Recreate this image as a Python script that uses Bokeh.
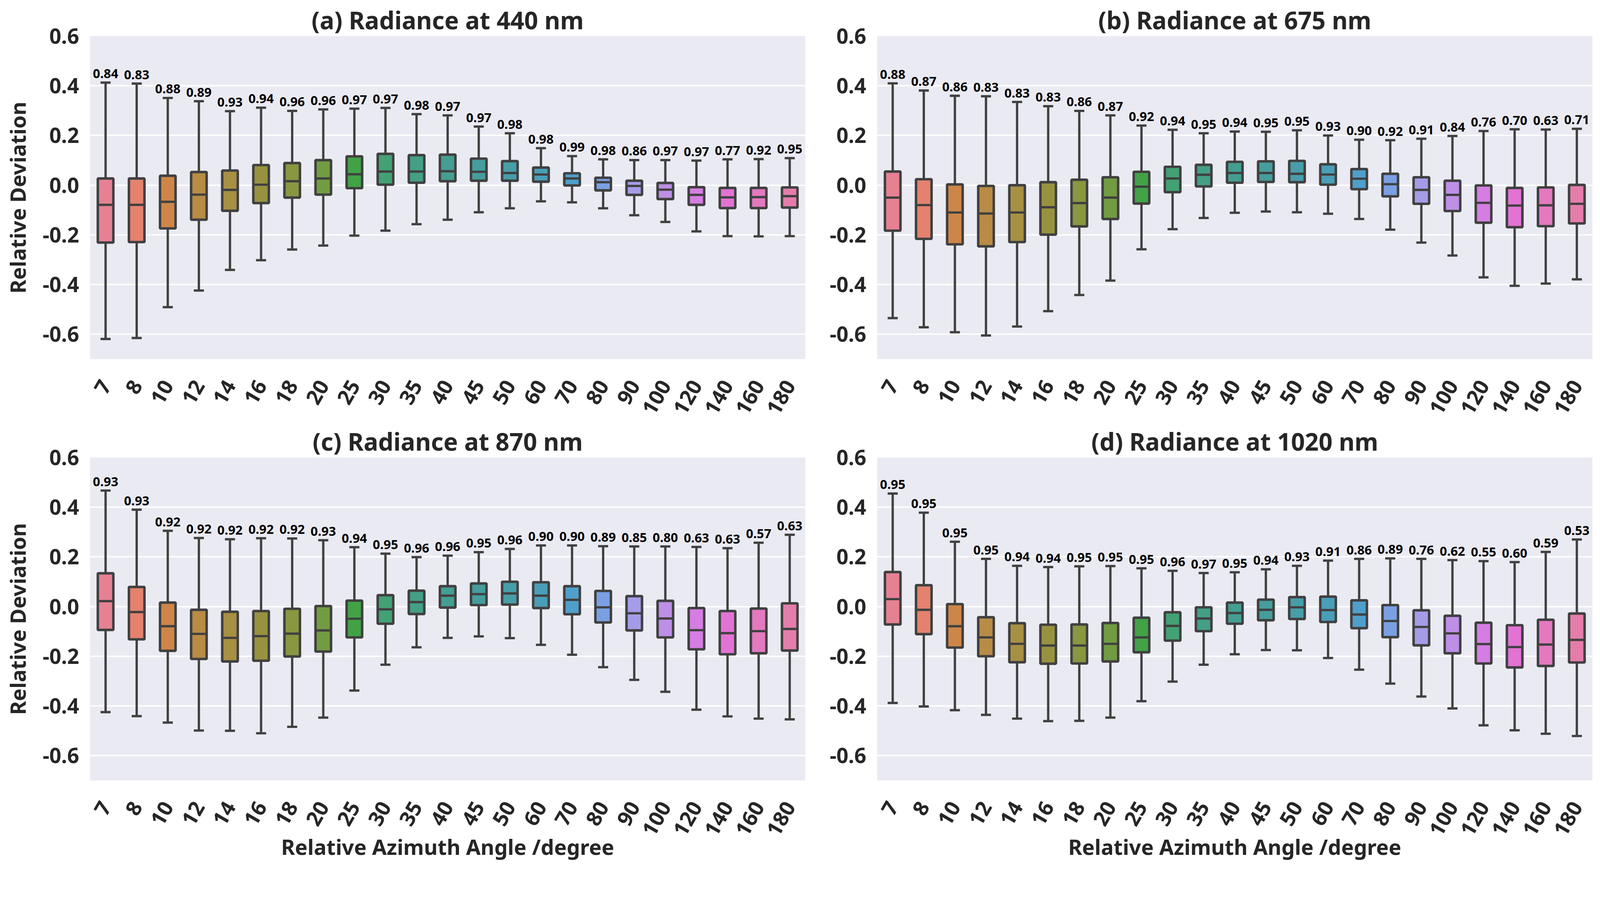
import math
import colorsys
import numpy as np
from bokeh.plotting import figure
from bokeh.models import ColumnDataSource, FactorRange, Range1d, FixedTicker, NumeralTickFormatter
from bokeh.transform import dodge
from bokeh.layouts import column, row
from bokeh.core.properties import value
from bokeh.embed import file_html
from bokeh.resources import INLINE

# ---------------- data ----------------
angles = ["7", "8", "10", "12", "14", "16", "18", "20", "25", "30", "35", "40",
          "45", "50", "60", "70", "80", "90", "100", "120", "140", "160", "180"]

titles = ["(a) Radiance at 440 nm", "(b) Radiance at 675 nm",
          "(c) Radiance at 870 nm", "(d) Radiance at 1020 nm"]

a_hi = [0.413, 0.409, 0.351, 0.338, 0.298, 0.312, 0.299, 0.305, 0.308, 0.311, 0.286, 0.281,
        0.236, 0.209, 0.149, 0.117, 0.104, 0.101, 0.101, 0.099, 0.104, 0.105, 0.109]
a_q3 = [0.027, 0.027, 0.038, 0.053, 0.059, 0.081, 0.089, 0.101, 0.116, 0.126, 0.121, 0.123,
        0.107, 0.097, 0.071, 0.048, 0.030, 0.018, 0.009, -0.008, -0.011, -0.011, -0.009]
a_med = [-0.079, -0.079, -0.067, -0.038, -0.019, 0.002, 0.016, 0.027, 0.044, 0.055, 0.055, 0.056,
         0.054, 0.049, 0.043, 0.027, 0.012, -0.003, -0.018, -0.039, -0.049, -0.048, -0.044]
a_q1 = [-0.231, -0.229, -0.174, -0.139, -0.103, -0.072, -0.050, -0.038, -0.012, 0.002, 0.010, 0.016,
        0.018, 0.018, 0.014, -0.001, -0.021, -0.039, -0.056, -0.079, -0.092, -0.092, -0.090]
a_lo = [-0.619, -0.615, -0.491, -0.424, -0.341, -0.302, -0.259, -0.243, -0.203, -0.183, -0.157, -0.139,
        -0.109, -0.093, -0.065, -0.069, -0.093, -0.121, -0.148, -0.186, -0.205, -0.206, -0.205]
a_r = ["0.84", "0.83", "0.88", "0.89", "0.93", "0.94", "0.96", "0.96", "0.97", "0.97", "0.98", "0.97",
       "0.97", "0.98", "0.98", "0.99", "0.98", "0.86", "0.97", "0.97", "0.77", "0.92", "0.95"]

b_hi = [0.410, 0.381, 0.360, 0.358, 0.335, 0.318, 0.299, 0.281, 0.240, 0.223, 0.209, 0.216,
        0.215, 0.221, 0.200, 0.183, 0.181, 0.187, 0.198, 0.218, 0.225, 0.224, 0.227]
b_q3 = [0.055, 0.024, 0.003, -0.003, 0.000, 0.012, 0.022, 0.032, 0.054, 0.074, 0.082, 0.094,
        0.096, 0.098, 0.084, 0.065, 0.046, 0.032, 0.018, -0.001, -0.011, -0.009, 0.001]
b_med = [-0.050, -0.080, -0.110, -0.114, -0.110, -0.089, -0.072, -0.050, -0.006, 0.027, 0.042, 0.049,
         0.049, 0.046, 0.043, 0.026, 0.004, -0.019, -0.039, -0.071, -0.082, -0.081, -0.075]
b_q1 = [-0.183, -0.216, -0.238, -0.246, -0.229, -0.199, -0.166, -0.136, -0.074, -0.028, -0.005, 0.010,
        0.013, 0.012, 0.002, -0.016, -0.045, -0.075, -0.104, -0.151, -0.169, -0.165, -0.154]
b_lo = [-0.535, -0.572, -0.592, -0.605, -0.569, -0.507, -0.442, -0.384, -0.258, -0.177, -0.132, -0.111,
        -0.106, -0.109, -0.115, -0.136, -0.179, -0.231, -0.283, -0.371, -0.405, -0.396, -0.379]
b_r = ["0.88", "0.87", "0.86", "0.83", "0.83", "0.83", "0.86", "0.87", "0.92", "0.94", "0.95", "0.94",
       "0.95", "0.95", "0.93", "0.90", "0.92", "0.91", "0.84", "0.76", "0.70", "0.63", "0.71"]

c_hi = [0.467, 0.390, 0.305, 0.276, 0.271, 0.275, 0.274, 0.267, 0.239, 0.213, 0.199, 0.205,
        0.219, 0.232, 0.246, 0.246, 0.243, 0.242, 0.242, 0.240, 0.235, 0.257, 0.289]
c_q3 = [0.134, 0.079, 0.016, -0.013, -0.021, -0.018, -0.009, 0.002, 0.024, 0.046, 0.064, 0.082,
        0.093, 0.100, 0.098, 0.082, 0.063, 0.042, 0.023, -0.006, -0.018, -0.008, 0.013]
c_med = [0.022, -0.022, -0.079, -0.110, -0.126, -0.119, -0.109, -0.096, -0.049, -0.011, 0.018, 0.044,
         0.050, 0.053, 0.044, 0.027, -0.003, -0.027, -0.048, -0.095, -0.107, -0.099, -0.090]
c_q1 = [-0.094, -0.132, -0.178, -0.211, -0.221, -0.218, -0.201, -0.181, -0.124, -0.069, -0.030, -0.004,
        0.006, 0.008, -0.006, -0.031, -0.064, -0.096, -0.124, -0.172, -0.192, -0.188, -0.177]
c_lo = [-0.425, -0.441, -0.467, -0.499, -0.500, -0.510, -0.484, -0.447, -0.338, -0.234, -0.164, -0.126,
        -0.120, -0.127, -0.154, -0.194, -0.244, -0.295, -0.343, -0.415, -0.442, -0.451, -0.454]
c_r = ["0.93", "0.93", "0.92", "0.92", "0.92", "0.92", "0.92", "0.93", "0.94", "0.95", "0.96", "0.96",
       "0.95", "0.96", "0.90", "0.90", "0.89", "0.85", "0.80", "0.63", "0.63", "0.57", "0.63"]

d_hi = [0.455, 0.378, 0.261, 0.192, 0.164, 0.159, 0.162, 0.163, 0.154, 0.144, 0.135, 0.138,
        0.150, 0.164, 0.185, 0.192, 0.194, 0.192, 0.187, 0.183, 0.179, 0.220, 0.270]
d_q3 = [0.139, 0.086, 0.010, -0.043, -0.067, -0.073, -0.072, -0.066, -0.045, -0.023, -0.003, 0.016,
        0.028, 0.038, 0.040, 0.025, 0.006, -0.015, -0.037, -0.065, -0.075, -0.053, -0.028]
d_med = [0.030, -0.013, -0.079, -0.124, -0.150, -0.157, -0.157, -0.150, -0.124, -0.078, -0.048, -0.026,
         -0.013, -0.003, -0.014, -0.032, -0.058, -0.082, -0.108, -0.151, -0.163, -0.153, -0.134]
d_q1 = [-0.072, -0.111, -0.165, -0.200, -0.224, -0.230, -0.229, -0.221, -0.184, -0.137, -0.099, -0.069,
        -0.055, -0.050, -0.062, -0.087, -0.123, -0.156, -0.188, -0.229, -0.245, -0.239, -0.225]
d_lo = [-0.388, -0.402, -0.417, -0.436, -0.451, -0.461, -0.460, -0.447, -0.381, -0.302, -0.234, -0.192,
        -0.175, -0.176, -0.207, -0.254, -0.310, -0.362, -0.410, -0.478, -0.498, -0.512, -0.521]
d_r = ["0.95", "0.95", "0.95", "0.95", "0.94", "0.94", "0.95", "0.95", "0.95", "0.96", "0.97", "0.95",
       "0.94", "0.93", "0.91", "0.86", "0.89", "0.76", "0.62", "0.55", "0.60", "0.59", "0.53"]

y_ticks = [-0.6, -0.4, -0.2, 0.0, 0.2, 0.4, 0.6]
x_title = "Relative Azimuth Angle /degree"
y_title = "Relative Deviation"


# ---------------- palette (seaborn husl, desaturated 0.75) ----------------
def husl_to_rgb(h, s, L):
    M = [[3.240969941904521, -1.537383177570093, -0.498610760293],
         [-0.96924363628087, 1.87596750150772, 0.041555057407175],
         [0.055630079696993, -0.20397695888897, 1.056971514242878]]
    refU, refV = 0.19783000664283, 0.46831999493879
    kappa, eps = 903.2962962, 0.0088564516

    hr = math.radians(h)
    sh, ch = math.sin(hr), math.cos(hr)
    sub1 = (L + 16) ** 3 / 1560896.0
    sub2 = sub1 if sub1 > eps else L / kappa
    mx = float("inf")
    for m1, m2, m3 in M:
        top = (0.99915 * m1 + 1.05122 * m2 + 1.14460 * m3) * sub2
        rb = 0.86330 * m3 - 0.17266 * m2
        lb = 0.12949 * m3 - 0.38848 * m1
        bottom = (rb * sh + lb * ch) * sub2
        for t in (0.0, 1.0):
            C = L * (top - 1.05122 * t) / (bottom + 0.17266 * sh * t)
            if 0 < C < mx:
                mx = C
    C = mx / 100.0 * s
    U, V = ch * C, sh * C
    Y = ((L + 16) / 116.0) ** 3 if L > 8 else L / kappa
    vu = U / (13 * L) + refU
    vv = V / (13 * L) + refV
    X = 0 - (9 * Y * vu) / ((vu - 4) * vv - vu * vv)
    Z = (9 * Y - (15 * vv * Y) - (vv * X)) / (3 * vv)
    out = []
    for r0, r1, r2 in M:
        c = r0 * X + r1 * Y + r2 * Z
        c = 12.92 * c if c <= 0.0031308 else 1.055 * c ** (1 / 2.4) - 0.055
        out.append(min(max(c, 0.0), 1.0))
    return out


n = len(angles)
hues = (np.linspace(0, 1, n + 1)[:-1] + 0.01) % 1 * 359
colors, lights = [], []
for hh in hues:
    rgb = husl_to_rgb(hh, 0.9 * 99, 0.65 * 99)
    H_, L_, S_ = colorsys.rgb_to_hls(*rgb)
    rgb = colorsys.hls_to_rgb(H_, L_, S_ * 0.75)
    lights.append(colorsys.rgb_to_hls(*rgb)[1])
    colors.append("#%02x%02x%02x" % tuple(int(round(v * 255)) for v in rgb))
lum = min(lights) * 0.6
GRAY = "#%02x%02x%02x" % ((int(round(lum * 255)),) * 3)

FONT = "Noto Sans"
TXT = "#262626"

panels = [
    (a_lo, a_q1, a_med, a_q3, a_hi, a_r),
    (b_lo, b_q1, b_med, b_q3, b_hi, b_r),
    (c_lo, c_q1, c_med, c_q3, c_hi, c_r),
    (d_lo, d_q1, d_med, d_q3, d_hi, d_r),
]

# geometry: (width, height, border_left, border_right, border_top, border_bottom)
geo = [
    (2102, 1082, 230, 41, 92, 163),
    (1995, 1082, 143, 21, 92, 163),
    (2102, 1146, 230, 41, 89, 230),
    (1995, 1146, 143, 21, 89, 230),
]

figs = []
for k, (lo, q1, med, q3, hi, rr) in enumerate(panels):
    W, H, bl, br, bt, bb = geo[k]
    p = figure(width=W, height=H, x_range=FactorRange(*angles), y_range=Range1d(-0.7, 0.6),
               output_backend="svg", toolbar_location=None,
               min_border_left=bl, min_border_right=br, min_border_top=bt, min_border_bottom=bb)
    p.background_fill_color = "#eaeaf2"
    p.border_fill_color = "white"
    p.outline_line_color = None
    p.xgrid.grid_line_color = None
    p.ygrid.grid_line_color = "white"
    p.ygrid.grid_line_width = 3.4
    p.ygrid.ticker = FixedTicker(ticks=y_ticks)

    p.title.text = titles[k]
    p.title.align = "center"
    p.title.text_font = FONT
    p.title.text_font_style = "bold"
    p.title.text_font_size = "62px"
    p.title.text_color = TXT
    p.title.standoff = 0

    for ax in (p.xaxis[0], p.yaxis[0]):
        ax.axis_line_color = None
        ax.major_tick_line_color = None
        ax.minor_tick_line_color = None
        ax.major_tick_out = 0
        ax.major_label_text_font = FONT
        ax.major_label_text_font_style = "bold"
        ax.major_label_text_font_size = "53.5px"
        ax.major_label_text_color = TXT
        ax.axis_label_text_font = FONT
        ax.axis_label_text_font_style = "bold"
        ax.axis_label_text_font_size = "54px"
        ax.axis_label_text_color = TXT
    p.yaxis.ticker = FixedTicker(ticks=y_ticks)
    p.yaxis.formatter = NumeralTickFormatter(format="0.0")
    p.yaxis.major_label_standoff = 28
    p.yaxis.axis_label_standoff = 24
    p.xaxis.major_label_orientation = math.pi / 3
    p.xaxis.major_label_standoff = 58
    p.xaxis.axis_label_standoff = -28
    if k in (0, 2):
        p.yaxis.axis_label = y_title
    if k in (2, 3):
        p.xaxis.axis_label = x_title

    src = ColumnDataSource(dict(x=angles, lo=lo, q1=q1, med=med, q3=q3, hi=hi, r=rr, c=colors))
    # whiskers
    p.segment(x0="x", y0="q3", x1="x", y1="hi", source=src, line_color=GRAY, line_width=5.9)
    p.segment(x0="x", y0="q1", x1="x", y1="lo", source=src, line_color=GRAY, line_width=5.9)
    # boxes
    p.vbar(x="x", width=0.5, bottom="q1", top="q3", source=src, fill_color="c",
           line_color=GRAY, line_width=6.4)
    # medians
    p.segment(x0=dodge("x", -0.25, range=p.x_range), y0="med",
              x1=dodge("x", 0.25, range=p.x_range), y1="med",
              source=src, line_color=GRAY, line_width=5.9)
    # caps
    for yy in ("hi", "lo"):
        p.segment(x0=dodge("x", -0.125, range=p.x_range), y0=yy,
                  x1=dodge("x", 0.125, range=p.x_range), y1=yy,
                  source=src, line_color=GRAY, line_width=5.9, line_cap="square")
    # correlation labels
    p.text(x="x", y="hi", text="r", source=src, text_font=value(FONT), text_font_style="bold",
           text_font_size="32.5px", text_color="black", text_align="center",
           text_baseline="alphabetic", y_offset=-23)
    figs.append(p)

layout = column(row(figs[0], figs[1]), row(figs[2], figs[3]))
open("out.html", "w").write(file_html(layout, INLINE))
